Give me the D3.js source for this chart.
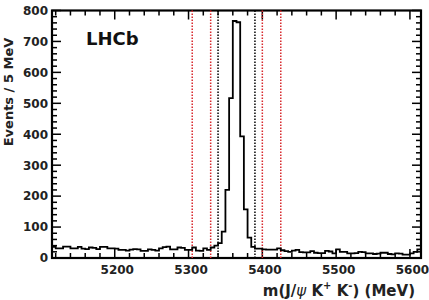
<!DOCTYPE html>
<html>
<head>
<meta charset="utf-8">
<script src="https://cdn.jsdelivr.net/npm/d3@7"></script>
<style>
  html, body { margin: 0; padding: 0; background: #fff; }
  svg { display: block; }
</style>
</head>
<body>
<div id="chart"></div>
<script>
// histogram: 5 MeV bins starting at 5115 MeV
const binStart = 5115;
const binWidth = 5;
const counts = [
  36, 31, 31, 37, 37, 31, 31, 36, 30, 29,
  34, 33, 29, 36, 36, 31, 31, 30, 26, 26,
  24, 27, 29, 28, 23, 23, 28, 26, 24, 31,
  35, 37, 28, 28, 34, 33, 26, 26, 34, 24,
  23, 31, 26, 34, 40, 48, 85, 220, 517, 766,
  762, 393, 157, 66, 36, 30, 30, 28, 27, 27,
  27, 31, 25, 22, 20, 24, 26, 19, 18, 18,
  22, 17, 16, 16, 23, 21, 15, 28, 20, 20,
  15, 15, 16, 20, 19, 15, 15, 13, 14, 17,
  17, 13, 12, 15, 14, 11, 11, 15, 20, 28
];
const xTicks = [5200, 5300, 5400, 5500, 5600];
const yTicks = [0, 100, 200, 300, 400, 500, 600, 700, 800];
const signalLines = [5340, 5390];               // black dotted
const sidebandLines = [5305, 5330, 5400, 5425]; // red dotted

const width = 429;
const height = 300;
const marginTop = 10.5;
const marginRight = 8;
const marginBottom = 42;
const marginLeft = 52;

const x = d3.scaleLinear()
    .domain([5115, 5615])
    .range([marginLeft, width - marginRight]);

const y = d3.scaleLinear()
    .domain([0, 800])
    .range([height - marginBottom, marginTop]);

const svg = d3.select("#chart").append("svg")
    .attr("width", width)
    .attr("height", height)
    .attr("viewBox", [0, 0, width, height]);

const font = "'DejaVu Sans', sans-serif";

// minor ticks every 20 on both axes
const xMinor = d3.range(5120, 5615, 20).filter(v => v % 100 !== 0);
const yMinor = d3.range(20, 800, 20).filter(v => v % 100 !== 0);

const [x0, x1] = x.range();
const [y0, y1] = y.range();   // y0 = bottom, y1 = top

// frame
svg.append("rect")
    .attr("x", x0)
    .attr("y", y1)
    .attr("width", x1 - x0)
    .attr("height", y0 - y1)
    .attr("fill", "none")
    .attr("stroke", "#000")
    .attr("stroke-width", 2.2);

// ticks pointing into the frame on all four sides
const tickG = svg.append("g").attr("fill", "#000");
function vTick(v, len) {
  tickG.append("rect").attr("x", x(v) - 0.75).attr("y", y0 - len).attr("width", 1.5).attr("height", len);
  tickG.append("rect").attr("x", x(v) - 0.75).attr("y", y1).attr("width", 1.5).attr("height", len);
}
function hTick(v, len) {
  tickG.append("rect").attr("x", x0).attr("y", y(v) - 0.75).attr("width", len).attr("height", 1.5);
  tickG.append("rect").attr("x", x1 - len).attr("y", y(v) - 0.75).attr("width", len).attr("height", 1.5);
}
xTicks.forEach(v => vTick(v, 9));
xMinor.forEach(v => vTick(v, 5));
yTicks.forEach(v => hTick(v, 9));
yMinor.forEach(v => hTick(v, 5));

// tick labels
svg.append("g")
    .attr("transform", `translate(0,${y0})`)
    .call(d3.axisBottom(x).tickValues(xTicks).tickSize(0).tickPadding(7).tickFormat(d3.format("d")))
    .call(g => g.select(".domain").remove())
    .call(g => g.selectAll("text")
        .attr("font-family", font).attr("font-weight", "bold")
        .attr("font-size", 12).attr("fill", "#222").attr("dx", 2));

svg.append("g")
    .attr("transform", `translate(${x0},0)`)
    .call(d3.axisLeft(y).tickValues(yTicks).tickSize(0).tickPadding(4).tickFormat(d3.format("d")))
    .call(g => g.select(".domain").remove())
    .call(g => g.selectAll("text")
        .attr("font-family", font).attr("font-weight", "bold")
        .attr("font-size", 12).attr("fill", "#222"));

// dotted selection lines
svg.append("g")
  .selectAll("line")
  .data(sidebandLines)
  .join("line")
    .attr("x1", d => x(d)).attr("x2", d => x(d))
    .attr("y1", y1).attr("y2", y0)
    .attr("stroke", "#d8282d")
    .attr("stroke-width", 1.5)
    .attr("stroke-dasharray", "1.5,1.5");

svg.append("g")
  .selectAll("line")
  .data(signalLines)
  .join("line")
    .attr("x1", d => x(d)).attr("x2", d => x(d))
    .attr("y1", y1).attr("y2", y0)
    .attr("stroke", "#000")
    .attr("stroke-width", 1.5)
    .attr("stroke-dasharray", "1.5,1.5");

// histogram as a step line
const pts = counts.map((c, i) => [binStart + i * binWidth, c]);
pts.push([binStart + counts.length * binWidth, counts[counts.length - 1]]);

const step = d3.line()
    .curve(d3.curveStepAfter)
    .x(d => x(d[0]))
    .y(d => y(d[1]));

svg.append("path")
    .datum(pts)
    .attr("fill", "none")
    .attr("stroke", "#000")
    .attr("stroke-width", 1.8)
    .attr("d", step);

// LHCb label
svg.append("text")
    .attr("x", 86)
    .attr("y", 45)
    .attr("font-family", font)
    .attr("font-weight", "bold")
    .attr("font-size", 18)
    .attr("fill", "#111")
    .text("LHCb");

// y title
svg.append("text")
    .attr("transform", "translate(13,92) rotate(-90)")
    .attr("text-anchor", "middle")
    .attr("font-family", font)
    .attr("font-weight", "bold")
    .attr("font-size", 13)
    .attr("fill", "#222")
    .text("Events / 5 MeV");

// x title
const title = svg.append("text")
    .attr("x", 415)
    .attr("y", 296)
    .attr("text-anchor", "end")
    .attr("font-family", font)
    .attr("font-weight", "bold")
    .attr("font-size", 15)
    .attr("fill", "#222");
title.append("tspan").text("m(J/");
title.append("tspan").attr("font-weight", "normal").attr("font-style", "italic").text("ψ");
title.append("tspan").text(" K");
title.append("tspan").attr("dy", -7).attr("font-size", 10).text("+");
title.append("tspan").attr("dy", 7).text(" K");
title.append("tspan").attr("dy", -7).attr("font-size", 10).text("-");
title.append("tspan").attr("dy", 7).text(")  (MeV)");
</script>
</body>
</html>
